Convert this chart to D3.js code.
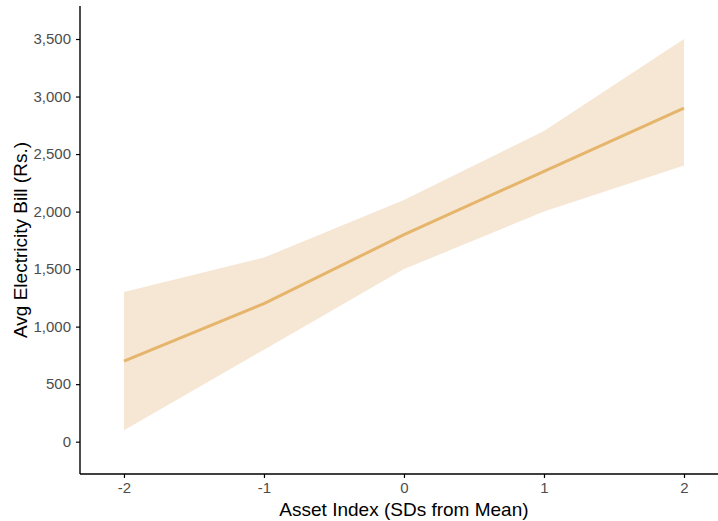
<!DOCTYPE html>
<html>
<head>
<meta charset="utf-8">
<script src="https://cdn.jsdelivr.net/npm/d3@7"></script>
<style>
  html, body { margin: 0; padding: 0; background: #fff; }
  svg { display: block; }
  text { font-family: "Liberation Sans", Arial, Helvetica, sans-serif; }
</style>
</head>
<body>
<svg id="chart" width="718" height="521"></svg>
<script>
// Asset index positions (SDs from mean)
const assetIndex = [-2, -1, 0, 1, 2];
// Predicted average electricity bill (Rs.)
const billFit   = [700, 1200, 1800, 2350, 2900];
// Confidence band
const billLower = [100, 800, 1500, 2000, 2400];
const billUpper = [1300, 1600, 2100, 2700, 3500];
// Tick values
const xTicks = [-2, -1, 0, 1, 2];
const yTicks = [0, 500, 1000, 1500, 2000, 2500, 3000, 3500];

const rows = assetIndex.map((x, i) => ({ x, fit: billFit[i], lo: billLower[i], hi: billUpper[i] }));

const plotLeft = 80, plotRight = 718, plotTop = 6, plotBottom = 474;

const svg = d3.select("#chart");

const x = d3.scaleLinear().domain([-2.314, 2.243]).range([plotLeft, plotRight]);
const y = d3.scaleLinear().domain([-281, 3787]).range([plotBottom, plotTop]);

// confidence ribbon
svg.append("path")
  .datum(rows)
  .attr("fill", "#F6E6D4")
  .attr("d", d3.area().x(d => x(d.x)).y0(d => y(d.lo)).y1(d => y(d.hi)));

// fitted line
svg.append("path")
  .datum(rows)
  .attr("fill", "none")
  .attr("stroke", "#E6B56C")
  .attr("stroke-width", 3)
  .attr("d", d3.line().x(d => x(d.x)).y(d => y(d.fit)));

// axes
const fmt = d3.format(",");
const xAxis = svg.append("g")
  .attr("transform", `translate(0,${plotBottom})`)
  .call(d3.axisBottom(x).tickValues(xTicks).tickSize(4).tickPadding(4)
    .tickFormat(d => d < 0 ? "-" + Math.abs(d) : String(d)));
const yAxis = svg.append("g")
  .attr("transform", `translate(${plotLeft},0)`)
  .call(d3.axisLeft(y).tickValues(yTicks).tickSize(4).tickPadding(5).tickFormat(fmt));

[xAxis, yAxis].forEach(g => {
  g.select(".domain").attr("stroke", "#000").attr("stroke-width", 1.4);
  g.selectAll(".tick line").attr("stroke", "#000").attr("stroke-width", 1.2);
  g.selectAll(".tick text").attr("fill", "#4D4D4D").style("font-size", "15px");
});
xAxis.select(".domain").attr("d", `M${plotLeft},0H${plotRight}`);
yAxis.select(".domain").attr("d", `M0,${plotTop}V${plotBottom}`);

// axis titles
svg.append("text")
  .attr("x", x(0)).attr("y", 516)
  .attr("text-anchor", "middle")
  .style("font-size", "19px")
  .attr("fill", "#000")
  .text("Asset Index (SDs from Mean)");

svg.append("text")
  .attr("transform", `translate(27,${(plotTop + plotBottom) / 2}) rotate(-90)`)
  .attr("text-anchor", "middle")
  .style("font-size", "19px")
  .attr("fill", "#000")
  .text("Avg Electricity Bill (Rs.)");
</script>
</body>
</html>
